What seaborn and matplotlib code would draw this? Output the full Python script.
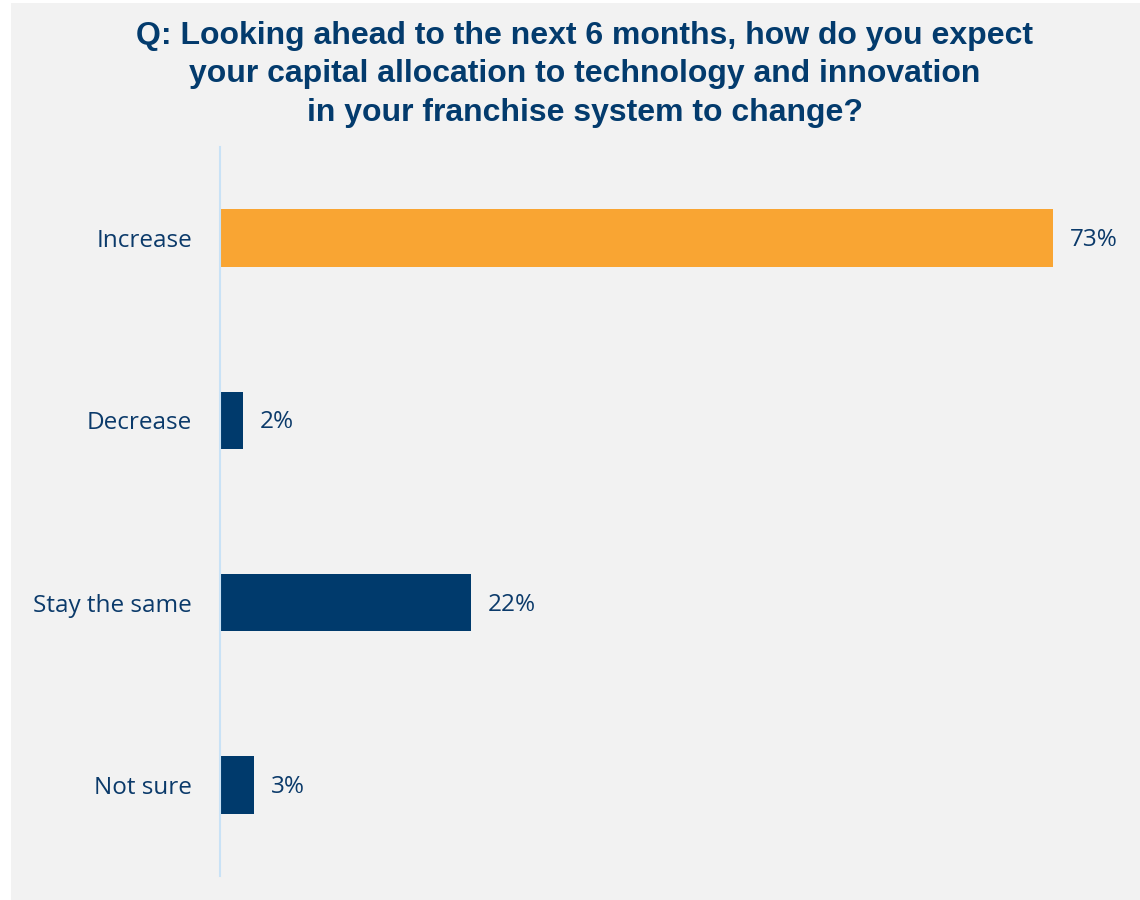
import matplotlib
matplotlib.use("Agg")
import matplotlib.pyplot as plt
import seaborn as sns
import pandas as pd
from matplotlib.patches import Rectangle

# Survey responses
categories = ["Increase", "Decrease", "Stay the same", "Not sure"]
shares = [73, 2, 22, 3]
value_labels = ["73%", "2%", "22%", "3%"]
bar_colors = ["#f9a533", "#003a6c", "#003a6c", "#003a6c"]

title = ("Q: Looking ahead to the next 6 months, how do you expect\n"
         "your capital allocation to technology and innovation\n"
         "in your franchise system to change?")

text_color = "#0b3a6a"
title_color = "#033b6d"
panel_color = "#f2f2f2"

sns.set_theme(style="white")
plt.rcParams["font.family"] = ["Open Sans", "DejaVu Sans"]

fig = plt.figure(figsize=(11.4, 9.0), dpi=100)
fig.patch.set_facecolor("white")
fig.patches.append(Rectangle((11 / 1140, 0), 1 - 11 / 1140, 1 - 3 / 900,
                             transform=fig.transFigure, facecolor=panel_color,
                             edgecolor="none", zorder=-10))

ax = fig.add_axes([220 / 1140, 24 / 900, 920 / 1140, 729 / 900])
ax.set_facecolor("none")

df = pd.DataFrame({"category": categories, "share": shares})
sns.barplot(data=df, x="share", y="category", hue="category",
            palette=bar_colors, order=categories, hue_order=categories,
            width=0.315, legend=False, saturation=1, linewidth=0, ax=ax)

ax.set_xlim(0, 920 / 11.41)
ax.set_ylim(3.5, -0.5)
ax.set_xlabel("")
ax.set_ylabel("")
ax.set_xticks([])
for side in ["top", "right", "bottom"]:
    ax.spines[side].set_visible(False)
ax.spines["left"].set_color("#c9e2f6")
ax.spines["left"].set_linewidth(1.5)
ax.tick_params(axis="y", length=0, pad=20, labelsize=17.5, labelcolor=text_color)

for i, (v, lab) in enumerate(zip(shares, value_labels)):
    ax.annotate(lab, xy=(v, i), xytext=(12, -1.5), textcoords="offset points",
                va="center", ha="left", fontsize=17.5, color=text_color)

fig.text(585 / 1140, 1 - 21 / 900, title, ha="center", va="top",
         fontsize=23, fontweight="bold", color=title_color,
         family=["Liberation Sans", "DejaVu Sans"], linespacing=1.36)

fig.savefig("out.png", dpi=100, facecolor=fig.get_facecolor())
